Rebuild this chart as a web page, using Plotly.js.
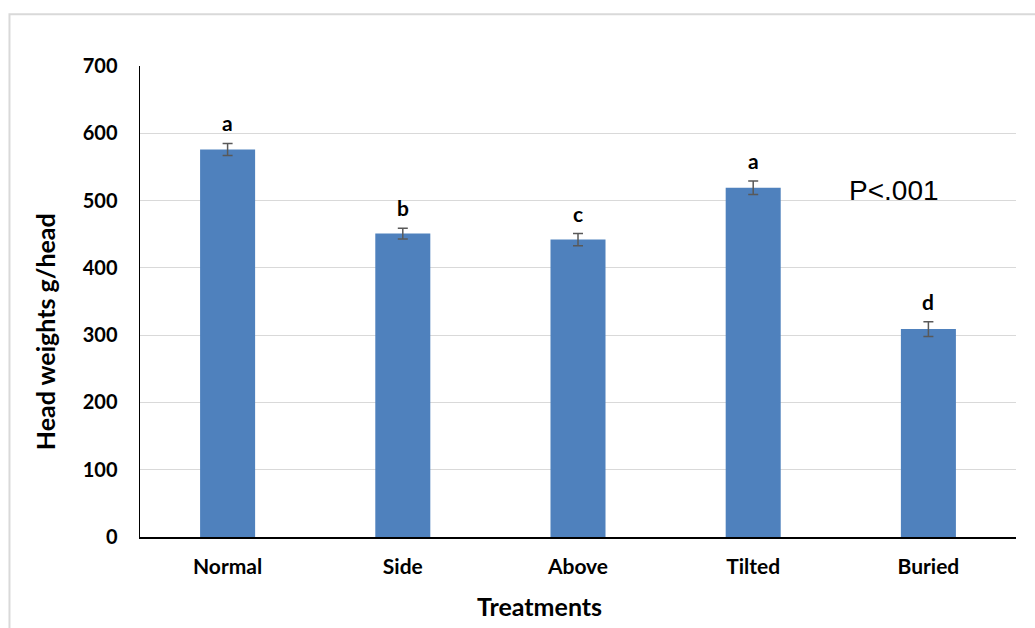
<!DOCTYPE html>
<html>
<head>
<meta charset="utf-8">
<script src="https://cdn.plot.ly/plotly-3.0.1.min.js"></script>
<style>
html,body{margin:0;padding:0;background:#fff;}
#chart{width:1035px;height:628px;}
</style>
</head>
<body>
<div id="chart"></div>
<script>
const treatments = ["Normal", "Side", "Above", "Tilted", "Buried"];
const headWeights = [576, 451, 442, 519, 309];
const stdErrors = [9, 8, 9, 10, 11];
const groupLetters = ["a", "b", "c", "a", "d"];
const yTicks = [0, 100, 200, 300, 400, 500, 600, 700];
const pValueText = "P<.001";
const xTitle = "Treatments";
const yTitle = "Head weights g/head";

const font = "Lato, 'Open Sans', Calibri, sans-serif";

const trace = {
  type: "bar",
  x: treatments,
  y: headWeights,
  width: 0.314,
  marker: { color: "#4F81BD" },
  error_y: {
    type: "data",
    array: stdErrors,
    visible: true,
    color: "#595959",
    thickness: 1.5,
    width: 5
  },
  hoverinfo: "x+y"
};

const annotations = treatments.map((t, i) => ({
  x: t,
  y: headWeights[i] + stdErrors[i],
  xref: "x", yref: "y",
  text: "<b>" + groupLetters[i] + "</b>",
  showarrow: false,
  yanchor: "bottom",
  yshift: 6,
  font: { family: font, size: 21, color: "#000" }
}));
annotations.push({
  x: 0.861, y: 0.735, xref: "paper", yref: "paper",
  text: pValueText, showarrow: false,
  xanchor: "center", yanchor: "middle",
  font: { family: "'Liberation Sans', Arial, sans-serif", size: 28, color: "#000" }
});
annotations.push({
  x: 0.4566, y: -0.1465, xref: "paper", yref: "paper",
  text: "<b>" + xTitle + "</b>", showarrow: false,
  xanchor: "center", yanchor: "middle",
  font: { family: font, size: 25, color: "#000" }
});
annotations.push({
  x: -0.1084, y: 0.435, xref: "paper", yref: "paper",
  text: "<b>" + yTitle + "</b>", showarrow: false,
  xanchor: "center", yanchor: "middle", textangle: -90,
  font: { family: font, size: 25, color: "#000" }
});

const layout = {
  width: 1035, height: 628,
  margin: { l: 140, r: 19, t: 66, b: 91 },
  paper_bgcolor: "#fff",
  plot_bgcolor: "#fff",
  showlegend: false,
  bargap: 0.686,
  xaxis: {
    showline: true, linecolor: "#000", linewidth: 1.5,
    ticks: "", showgrid: false,
    ticklabelstandoff: 10,
    tickfont: { family: font, size: 21, color: "#000", weight: "bold" }
  },
  yaxis: {
    range: [0, 700],
    tickvals: yTicks,
    showline: true, linecolor: "#000", linewidth: 1.5,
    ticks: "",
    showgrid: true, gridcolor: "#D9D9D9", gridwidth: 1,
    zeroline: false,
    ticklabelstandoff: 17,
    tickfont: { family: font, size: 20, color: "#000", weight: "bold" }
  },
  annotations: annotations,
  shapes: [{
    type: "rect", xref: "paper", yref: "paper",
    x0: -0.149, x1: 1.1, y0: -0.3, y1: 1.11,
    line: { color: "#D9D9D9", width: 2 }, fillcolor: "rgba(0,0,0,0)",
    layer: "below"
  }]
};

Plotly.newPlot("chart", [trace], layout, { displayModeBar: false, staticPlot: true });
</script>
</body>
</html>
